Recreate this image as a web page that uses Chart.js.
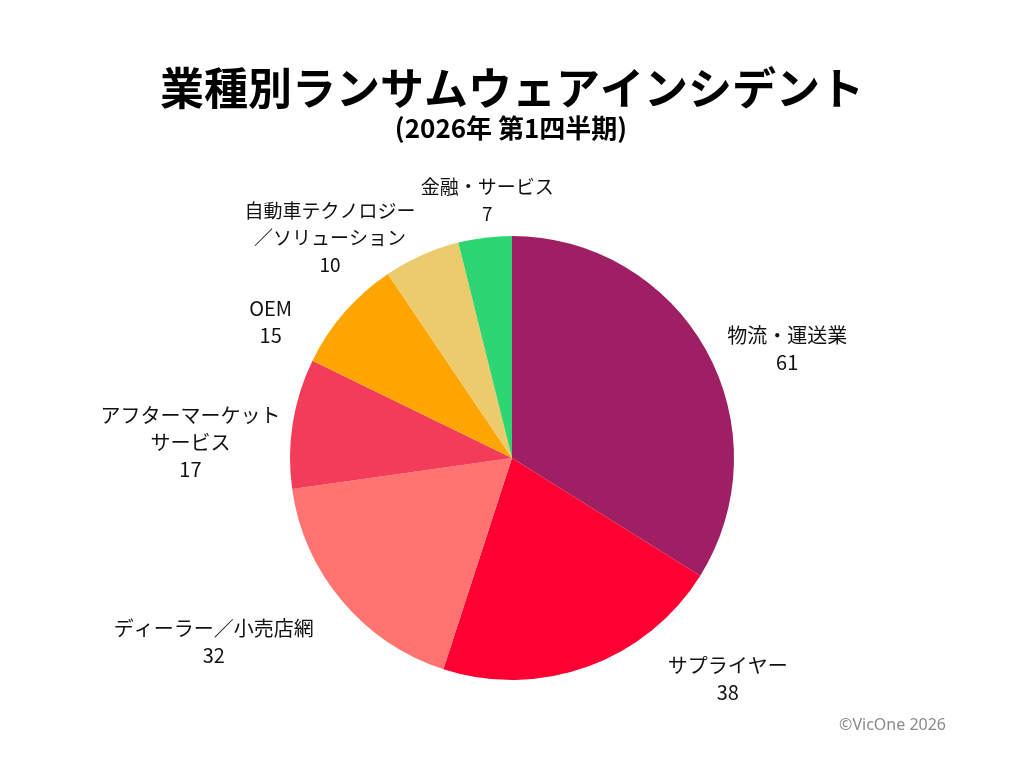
<!DOCTYPE html>
<html>
<head>
<meta charset="utf-8">
<script src="https://cdn.jsdelivr.net/npm/chart.js@4"></script>
<style>
  html, body { margin: 0; padding: 0; background: #fff; }
  #wrap { width: 1024px; height: 768px; }
</style>
</head>
<body>
<div id="wrap"><canvas id="myChart"></canvas></div>
<script>
    var categories = [
        ['物流・運送業'],
        ['サプライヤー'],
        ['ディーラー／小売店網'],
        ['アフターマーケット', 'サービス'],
        ['OEM'],
        ['自動車テクノロジー', '／ソリューション'],
        ['金融・サービス']
    ]
    var incidents = [61, 38, 32, 17, 15, 10, 7]
    var sliceColors = ['#9E1F63', '#FF0033', '#FF7370', '#F33B5A', '#FFA500', '#ECCB6C', '#2ED573']

    var titleText = '業種別ランサムウェアインシデント'
    var subtitleText = '(2026年 第1四半期)'
    var creditText = '©VicOne 2026'

    var jpFont = '"Noto Sans CJK JP", "Noto Sans", sans-serif'

    // labels sit outside the pie, nudged a bit from the slice middle
    var outsideLabels = {
        id: 'outsideLabels',
        afterDatasetsDraw: function(chart, args, opts) {
            var ctx = chart.ctx
            var meta = chart.getDatasetMeta(0)
            ctx.save()
            ctx.fillStyle = '#111'
            ctx.textAlign = 'center'
            ctx.textBaseline = 'middle'
            meta.data.forEach(function(arc, i) {
                var mid = (arc.startAngle + arc.endAngle) / 2 + opts.shift[i] * Math.PI / 180
                var r = arc.outerRadius * opts.dist[i]
                var x = arc.x + r * Math.cos(mid)
                var y = arc.y + r * Math.sin(mid)
                var lines = categories[i].concat([String(incidents[i])])
                var top = y - (lines.length - 1) * opts.lineHeight / 2
                ctx.font = opts.size[i] + 'px ' + jpFont
                lines.forEach(function(line, j) {
                    ctx.fillText(line, x, top + j * opts.lineHeight)
                })
            })
            ctx.restore()
        }
    }

    var headerText = {
        id: 'headerText',
        afterDraw: function(chart) {
            var ctx = chart.ctx
            ctx.save()
            ctx.fillStyle = '#000'
            ctx.textAlign = 'center'
            ctx.textBaseline = 'middle'
            ctx.font = 'bold 44px ' + jpFont
            ctx.fillText(titleText, 512, 88)
            ctx.font = 'bold 26px ' + jpFont
            ctx.fillText(subtitleText, 511, 128)
            ctx.fillStyle = '#8a8a8a'
            ctx.textAlign = 'right'
            ctx.font = '16px "Noto Sans", sans-serif'
            ctx.fillText(creditText, 946, 725)
            ctx.restore()
        }
    }

    var ctx = document.getElementById('myChart').getContext('2d');
    var myChart = new Chart(ctx, {
        type: 'pie',
        data: {
            labels: categories.map(function(c) { return c.join('') }),
            datasets: [{
                data: incidents,
                backgroundColor: sliceColors,
                borderWidth: 0
            }]
        },
        options: {
            responsive: true,
            maintainAspectRatio: false,
            animation: false,
            layout: {
                padding: { top: 236, bottom: 88, left: 290, right: 290 }
            },
            plugins: {
                legend: { display: false },
                tooltip: { enabled: false },
                outsideLabels: {
                    shift: [7.4, -24.3, 8.4, -6.3, -11.6, -15.5, 1.5],
                    dist: [1.333, 1.392, 1.577, 1.45, 1.248, 1.288, 1.167],
                    size: [20, 20, 20, 20, 20, 19, 19],
                    lineHeight: 27
                }
            }
        },
        plugins: [outsideLabels, headerText]
    });
</script>
</body>
</html>
